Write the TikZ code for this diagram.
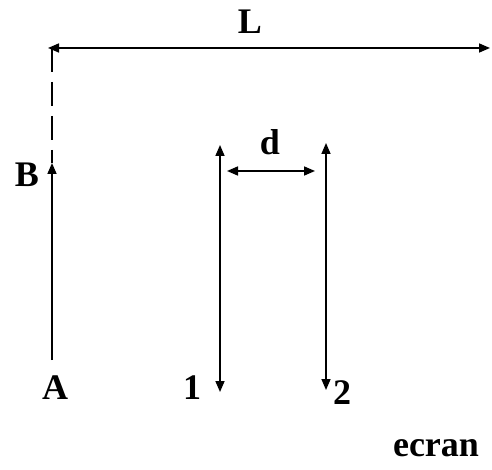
\documentclass[tikz,border=0pt]{standalone}
\usepackage{fontspec}
\setmainfont{Liberation Serif}
\usetikzlibrary{arrows.meta, positioning}
\tikzset{
  lbl/.style={font=\fontsize{36}{36}\selectfont\bfseries, inner sep=0pt},
  arr/.style={-{Triangle[length=11pt, width=9pt]}, line width=1.6pt},
  darr/.style={{Triangle[length=11pt, width=9pt]}-{Triangle[length=11pt, width=9pt]}, line width=1.6pt},
}
\begin{document}
\begin{tikzpicture}[x=1pt, y=-1pt]
  \useasboundingbox (0,0) rectangle (492,470);

  %% end points
  \coordinate (Lleft)  at (48,48);
  \coordinate (Lright) at (490,48);
  \coordinate (Btip)   at (52,163);
  \coordinate (Afoot)  at (52,360);
  \coordinate (top1)   at (220,145);
  \coordinate (bot1)   at (220,392);
  \coordinate (top2)   at (326,143);
  \coordinate (bot2)   at (326,390);
  \coordinate (dleft)  at (227,171);
  \coordinate (dright) at (315,171);

  %% labels
  \node[lbl] (nL) at (250,22) {L};
  \node[lbl] (nB) at (27,175) {B};
  \node[lbl] (nA) at (55,388) {A};
  \node[lbl] (n1) at (192,388) {1};
  \node[lbl] (n2) at (342,393) {2};
  \node[lbl] (nd) at (270,142) {d};
  \node[lbl] (necran) at (436,448) {ecran};

  %% distance L
  \draw[darr] (Lleft) -- (Lright);
  \draw[line width=1.6pt, dash pattern=on 24pt off 10pt] (Btip |- Lleft) -- (Btip);

  %% object AB
  \draw[arr] (Afoot) -- (Btip);

  %% slits 1 and 2
  \draw[darr] (top1) -- (bot1);
  \draw[darr] (top2) -- (bot2);
  \draw[darr] (dleft) -- (dright);

\end{tikzpicture}
\end{document}
